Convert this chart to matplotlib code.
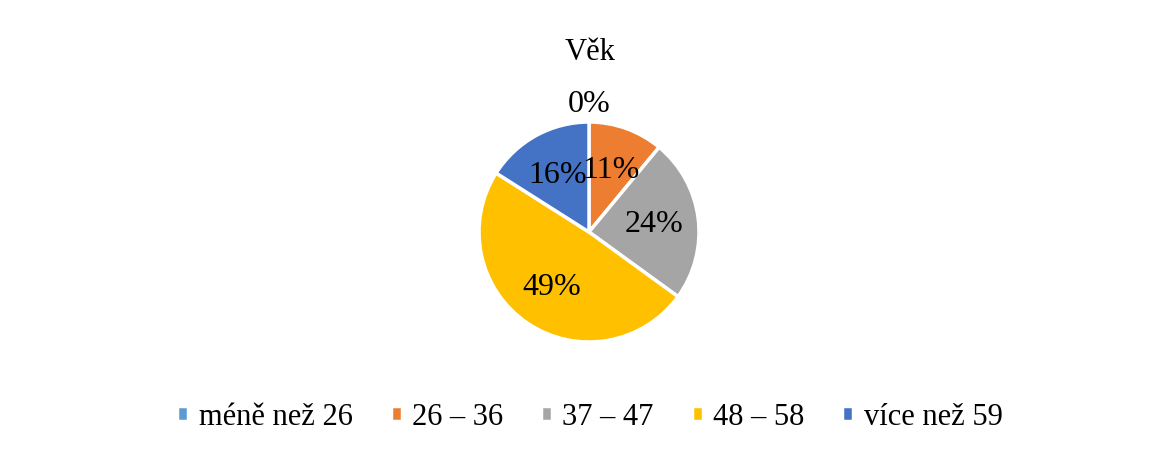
import matplotlib
matplotlib.use('Agg')
import matplotlib.pyplot as plt
import numpy as np

# ─── Data ───────────────────────────────────────────
categories = ['méně než 26', '26 – 36', '37 – 47', '48 – 58', 'více než 59']
shares = [0, 11, 24, 49, 16]
colors = ['#5B9BD5', '#ED7D31', '#A5A5A5', '#FFC000', '#4472C4']
title = 'Věk'

plt.rcParams.update({
    'font.family': ['Liberation Serif', 'DejaVu Serif'],
    'font.size': 22,
})

W, H = 1157, 452
fig = plt.figure(figsize=(W / 100, H / 100), dpi=100)

# pie axes: centre (589, 233), radius 110 px
cx, cy, r = 589, 233, 110
ax = fig.add_axes([(cx - r) / W, (H - cy - r) / H, 2 * r / W, 2 * r / H])

wedges, texts, autotexts = ax.pie(
    shares, colors=colors, startangle=90, counterclock=False,
    autopct='%1.0f%%', pctdistance=0.6, radius=1.0,
    wedgeprops=dict(edgecolor='white', linewidth=2.5),
    textprops=dict(fontsize=23, color='black'),
)
# zero-sized slice: Excel puts its label outside the pie
for w, t, v in zip(wedges, autotexts, shares):
    if v == 0:
        ang = np.deg2rad((w.theta1 + w.theta2) / 2)
        t.set_position((1.17 * np.cos(ang), 1.17 * np.sin(ang)))

ax.set_xlim(-1, 1)
ax.set_ylim(-1, 1)
ax.set_aspect('equal')
ax.axis('off')

fig.text(590 / W, 1 - 52 / H, title, ha='center', va='center', fontsize=22)

fig.legend(wedges, categories, loc='center', ncol=5,
           bbox_to_anchor=(590 / W, 1 - 418 / H), frameon=False,
           fontsize=22, handlelength=0.36, handleheight=0.36,
           handletextpad=0.34, columnspacing=1.24)

fig.savefig('out.png', dpi=100, facecolor='white')
